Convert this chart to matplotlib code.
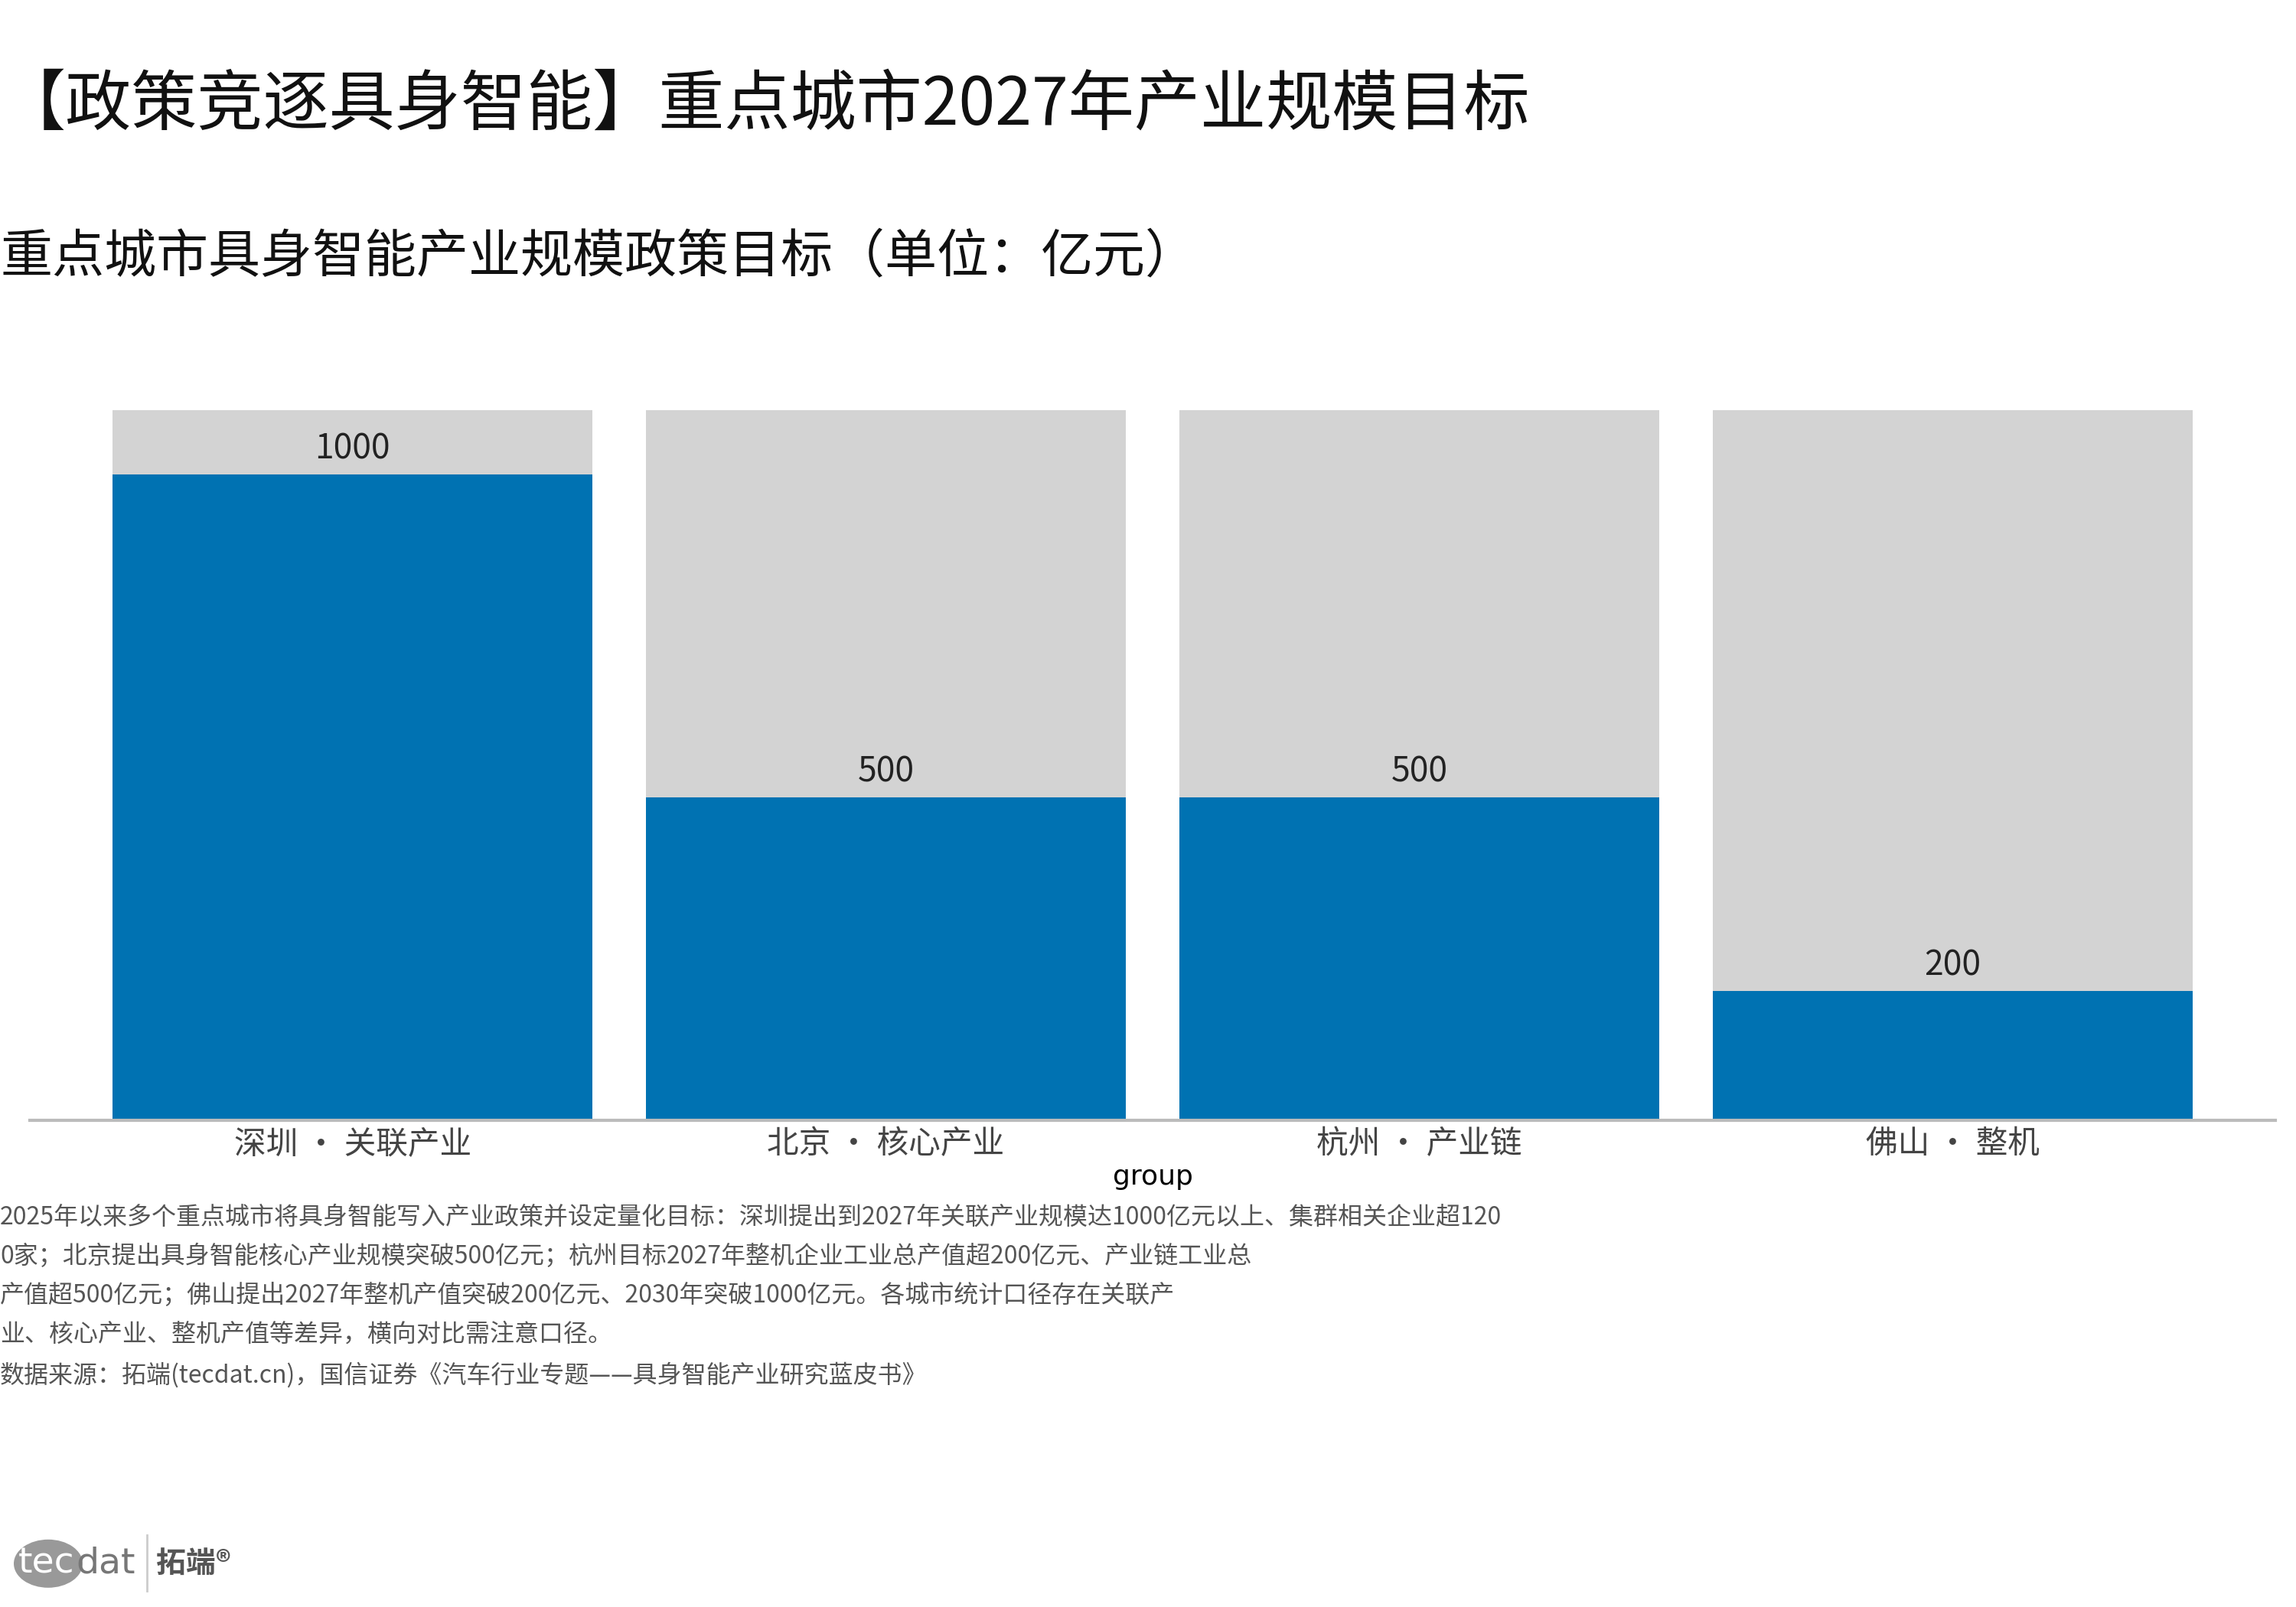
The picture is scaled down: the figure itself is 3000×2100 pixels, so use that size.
import matplotlib.pyplot as plt
from matplotlib.patches import Circle

plt.rcParams['font.family'] = ['Noto Sans CJK SC', 'DejaVu Sans']

cities = ['深圳 • 关联产业', '北京 • 核心产业', '杭州 • 产业链', '佛山 • 整机']
targets = [1000, 500, 500, 200]
ymax = 1100

title = '【政策竞逐具身智能】重点城市2027年产业规模目标'
subtitle = '重点城市具身智能产业规模政策目标（单位：亿元）'
note = ('2025年以来多个重点城市将具身智能写入产业政策并设定量化目标：深圳提出到2027年关联产业规模达1000亿元以上、集群相关企业超120\n'
        '0家；北京提出具身智能核心产业规模突破500亿元；杭州目标2027年整机企业工业总产值超200亿元、产业链工业总\n'
        '产值超500亿元；佛山提出2027年整机产值突破200亿元、2030年突破1000亿元。各城市统计口径存在关联产\n'
        '业、核心产业、整机产值等差异，横向对比需注意口径。\n'
        '数据来源：拓端(tecdat.cn)，国信证券《汽车行业专题——具身智能产业研究蓝皮书》')

fig = plt.figure(figsize=(15, 10.5), dpi=200)
ax = fig.add_axes([0.013, 0.303, 0.978, 0.442])

x = range(len(cities))
ax.bar(x, [ymax] * len(cities), width=0.9, color='#D3D3D3')
ax.bar(x, targets, width=0.9, color='#0072B2')
for xi, v in zip(x, targets):
    ax.text(xi, v + 12, str(v), ha='center', va='bottom', fontsize=16, color='#222222')

ax.set_xlim(-0.605, 3.605)
ax.set_ylim(0, ymax)
ax.set_xticks(list(x))
ax.set_xticklabels(cities, fontsize=15, color='#444444')
ax.tick_params(axis='x', length=0, pad=4)
ax.set_yticks([])
for s in ['top', 'right', 'left']:
    ax.spines[s].set_visible(False)
ax.spines['bottom'].set_color('#BBBBBB')
ax.spines['bottom'].set_linewidth(1.5)
ax.set_xlabel('group', fontsize=13, family='DejaVu Sans', labelpad=2)

fig.text(0.0, 0.934, title, fontsize=31, va='center', color='#111111')
fig.text(0.0, 0.840, subtitle, fontsize=24.5, va='center', color='#111111')
fig.text(0.0, 0.250, note, fontsize=11.5, va='top', color='#555555', linespacing=1.75)

# logo
fig.patches.append(Circle((0.021, 0.027), 0.015, transform=fig.transFigure,
                          facecolor='#999999', edgecolor='none'))
fig.text(0.008, 0.027, 'tec', fontsize=17, color='white', va='center', family='DejaVu Sans')
fig.text(0.033, 0.027, 'dat', fontsize=17, color='#777777', va='center', family='DejaVu Sans')
fig.lines.append(plt.Line2D([0.064, 0.064], [0.01, 0.045], transform=fig.transFigure,
                            color='#CCCCCC', linewidth=1))
fig.text(0.068, 0.027, '拓端®', fontsize=14, color='#555555', va='center', weight='bold')

fig.savefig('out.png', dpi=200, facecolor='white')
